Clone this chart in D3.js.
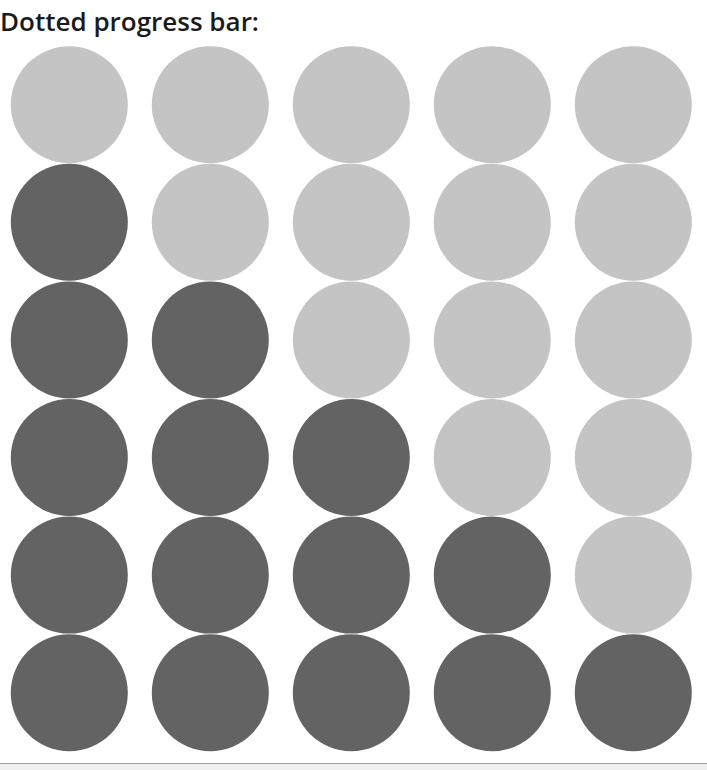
<!DOCTYPE html>
<html>
<head>
<meta charset="utf-8">
<script src="https://cdn.jsdelivr.net/npm/d3@7"></script>
<style>
    html, body { margin: 0; padding: 0; background: #fff; overflow: hidden; }
    #title {
        position: absolute; left: 0; top: 3px; margin: 0;
        font-family: "Open Sans", sans-serif; font-weight: 600; font-size: 26px;
        color: #1a1a1a; white-space: nowrap;
    }
    #chart { position: absolute; left: 0; top: 0; }
    .fake-scroll {
        position: absolute; left: 0; top: 763px; width: 707px; height: 7px;
        background: #f0f0f0; border-top: 1px solid #a0a0a0;
    }
</style>
</head>
<body>
<h2 id="title">Dotted progress bar:</h2>
<div id="chart"></div>
<div class="fake-scroll"></div>
<script>
// progress value of each row, total dots per row
const progress = [0, 1, 2, 3, 4, 5];
const dotsPerRow = 5;
const colors = { done: '#636363', todo: '#c4c4c4' };

document.addEventListener('DOMContentLoaded', function() {
    drawDots();
});

function drawDots() {
    const width = 707, height = 763;
    const svg = d3.select('#chart')
        .append('svg')
        .attr('width', width)
        .attr('height', height);

    const r = 58.5;

    const x = d3.scaleLinear()
        .domain([0, dotsPerRow - 1])
        .range([69.3, 69.3 + 141 * (dotsPerRow - 1)]);

    const y = d3.scaleLinear()
        .domain([0, progress.length - 1])
        .range([104.7, 104.7 + 117.6 * (progress.length - 1)]);

    const rows = svg.selectAll('g.row')
        .data(progress)
        .enter()
        .append('g')
        .attr('class', 'row')
        .attr('transform', (d, i) => `translate(0,${y(i)})`);

    rows.selectAll('circle')
        .data(p => d3.range(dotsPerRow).map(k => ({ k: k, done: k < p })))
        .enter()
        .append('circle')
        .attr('cx', d => x(d.k))
        .attr('cy', 0)
        .attr('r', r)
        .attr('fill', d => d.done ? colors.done : colors.todo);
}
</script>
</body>
</html>
